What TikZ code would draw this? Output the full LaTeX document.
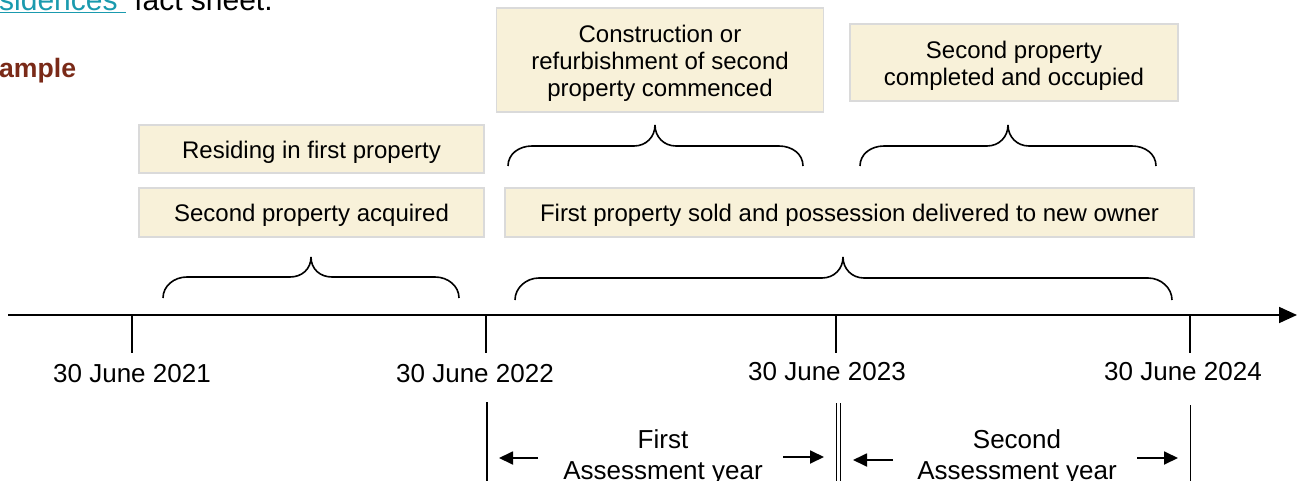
\documentclass[tikz,border=0pt]{standalone}
\usepackage{fontspec}
\setmainfont{Liberation Sans}
\usetikzlibrary{arrows.meta}
\definecolor{boxfill}{HTML}{F8F1D9}
\definecolor{boxline}{HTML}{DADADA}
\definecolor{exred}{HTML}{7A2A18}
\definecolor{linkteal}{HTML}{1A9AAE}
\newcommand\dn[1]{\raisebox{-3pt}[\height][\depth]{#1}}
\newcommand\mybrace[6]{% x0, xm, x1, ybottom, yflat, ytip
  \draw[bracel] (#1,#4) .. controls (#1,{#4-12}) and ({#1+11},#5) .. ({#1+24},#5)
    -- ({#2-21},#5) .. controls ({#2-9},#5) and (#2,{#6+12}) .. (#2,#6)
    .. controls (#2,{#6+12}) and ({#2+9},#5) .. ({#2+21},#5)
    -- ({#3-24},#5) .. controls ({#3-11},#5) and (#3,{#4-12}) .. (#3,#4);}
\begin{document}
\begin{tikzpicture}[x=1pt,y=-1pt,
  box/.style={draw=boxline, fill=boxfill, line width=1.5pt, inner sep=0pt, align=center,
    font=\fontsize{24}{27}\selectfont},
  bracel/.style={line width=1.6pt, black},
  datel/.style={font=\fontsize{26}{30}\selectfont, anchor=base, inner sep=0pt},
  yearl/.style={font=\fontsize{26}{31}\selectfont, align=center, inner sep=0pt},
  tickl/.style={line width=1.6pt},
  arr/.style={line width=1.8pt, -{Triangle[length=14pt,width=13pt]}}]
\useasboundingbox (0,0) rectangle (1303,481);

% partial texts at top-left
\node[anchor=base west, inner sep=0pt, font=\fontsize{30}{34}\selectfont] (hdr) at (-1,10.5)
  {\textcolor{linkteal}{\underline{sidences\ }} fact sheet.};
\node[anchor=base west, inner sep=0pt, font=\bfseries\fontsize{26.6}{30}\selectfont, text=exred] (ex) at (-1,77.5) {ample};

% boxes
\node[box, minimum width=345pt, minimum height=48pt] (b1) at (311.5,149) {\dn{Residing in first property}};
\node[box, minimum width=345pt, minimum height=49pt] (b2) at (311.5,212.5) {\dn{Second property acquired}};
\node[box, minimum width=327pt, minimum height=104pt] (b3) at (660,60) {\dn{Construction or}\\\dn{refurbishment of second}\\\dn{property commenced}};
\node[box, minimum width=328pt, minimum height=77pt] (b4) at (1014,62.5) {\dn{Second property}\\\dn{completed and occupied}};
\node[box, minimum width=689pt, minimum height=49pt] (b5) at (849.5,212.5) {\dn{First property sold and possession delivered to new owner}};

% braces
\mybrace{163}{311}{459}{298}{277}{257}
\mybrace{515}{843}{1172}{300}{278}{257}
\mybrace{508}{655}{803}{166}{146}{125}
\mybrace{860}{1008}{1156}{166}{146}{125}

% axis
\coordinate (ax0) at (8,315);
\coordinate (ax1) at (1297,315);
\draw[line width=1.8pt, -{Triangle[length=18pt,width=16pt]}] (ax0) -- (ax1);

% ticks
\foreach \n/\x in {t1/132,t2/486,t3/836,t4/1190}{
  \coordinate (\n a) at (\x,315);
  \coordinate (\n b) at (\x,353);
  \draw[tickl] (\n a) -- (\n b);
}

% dates
\node[datel] (d1) at (132,382) {30 June 2021};
\node[datel] (d2) at (475,382) {30 June 2022};
\node[datel] (d3) at (827,380) {30 June 2023};
\node[datel] (d4) at (1183,380) {30 June 2024};

% lower vertical lines
\coordinate (v1a) at (487,402); \coordinate (v1b) at (487,482);
\coordinate (v2a) at (836.5,403); \coordinate (v2b) at (836.5,482);
\coordinate (v3a) at (840.5,403); \coordinate (v3b) at (840.5,482);
\coordinate (v4a) at (1190.5,405); \coordinate (v4b) at (1190.5,482);
\draw[tickl] (v1a) -- (v1b);
\draw[line width=1.3pt] (v2a) -- (v2b);
\draw[line width=1.3pt] (v3a) -- (v3b);
\draw[tickl] (v4a) -- (v4b);

% year labels
\node[yearl, anchor=base] (y1a) at (663,448) {First};
\node[yearl, anchor=base] (y1b) at (663,479) {Assessment year};
\node[yearl, anchor=base] (y2a) at (1017,448) {Second};
\node[yearl, anchor=base] (y2b) at (1017,479) {Assessment year};

% arrows
\coordinate (a1s) at (538,458); \coordinate (a1e) at (499,458);
\coordinate (a2s) at (783,457); \coordinate (a2e) at (824,457);
\coordinate (a3s) at (893,460); \coordinate (a3e) at (853,460);
\coordinate (a4s) at (1137,458); \coordinate (a4e) at (1178,458);
\draw[arr] (a1s) -- (a1e);
\draw[arr] (a2s) -- (a2e);
\draw[arr] (a3s) -- (a3e);
\draw[arr] (a4s) -- (a4e);
\end{tikzpicture}
\end{document}
